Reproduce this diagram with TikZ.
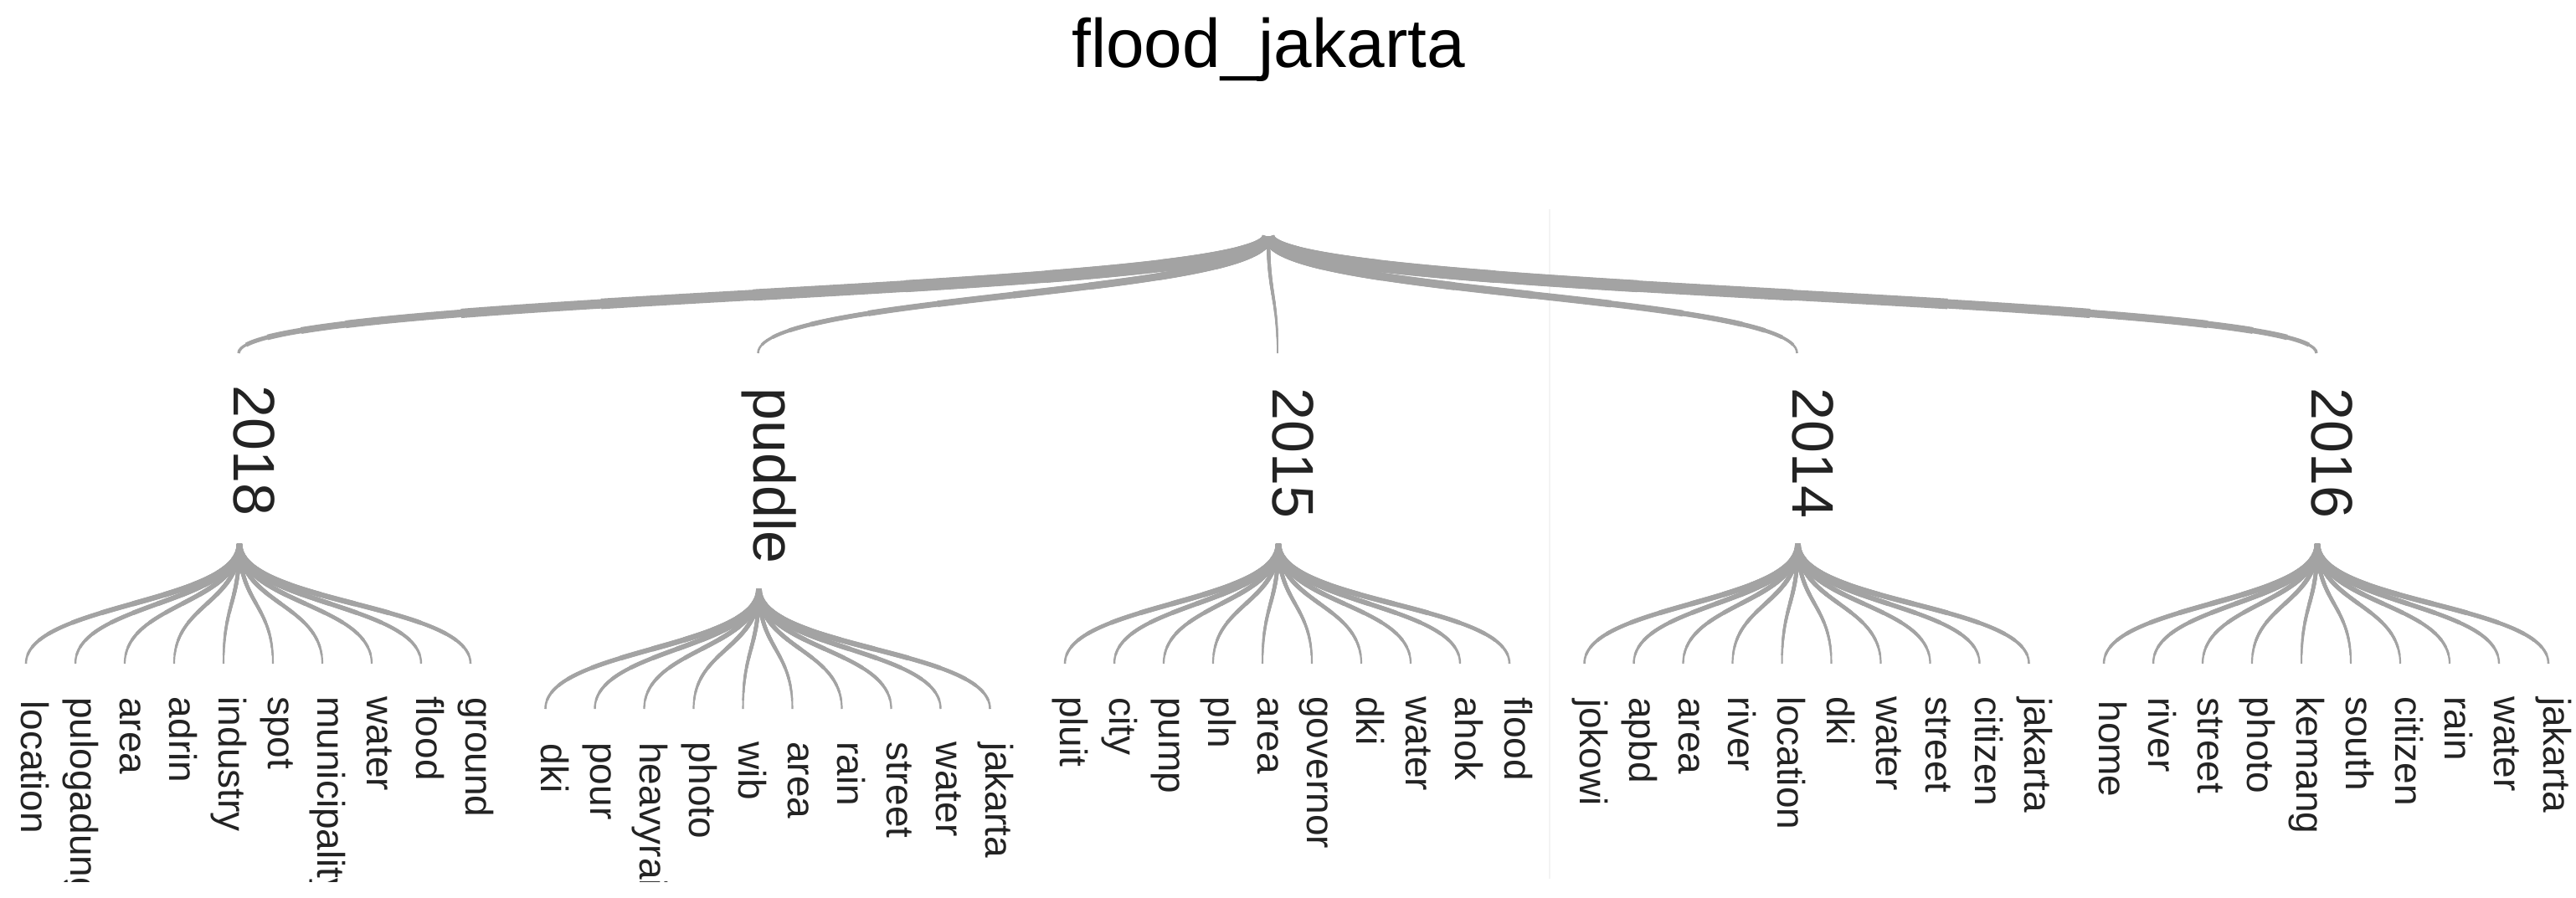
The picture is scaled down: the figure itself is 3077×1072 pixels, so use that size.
\documentclass[tikz,border=0pt]{standalone}
\usepackage{fontspec}
\setmainfont{Liberation Sans}
\usetikzlibrary{calc}
\definecolor{linkgray}{RGB}{163,163,163}
\definecolor{txtcol}{RGB}{35,35,35}
\definecolor{faint}{RGB}{243,243,243}
\newcommand\lnk[4]{%
  \coordinate (lkM) at ($(#1)!0.5!(#2)$);
  \coordinate (lkA) at (#1 |- lkM);
  \coordinate (lkB) at (#2 |- lkM);
  \foreach \lkt in {1,0.95,0.9,0.85,0.8,0.7,0.6,0.5,0.4,0.3,0.2,0.1}{%
    \pgfmathsetmacro\lkw{0.5*(#4+(#3-#4)*(1-(\lkt-0.025)^3))}%
    \pgfsetlinewidth{\lkw pt}%
    \pgfsetstrokecolor{linkgray}%
    \pgfpathcurvebetweentime{0}{\lkt}{\pgfpointanchor{#1}{center}}{\pgfpointanchor{lkA}{center}}{\pgfpointanchor{lkB}{center}}{\pgfpointanchor{#2}{center}}%
    \pgfusepath{stroke}%
  }%
}
\tikzset{
  lone/.style={rotate=-90, anchor=mid west, inner sep=0pt, font=\fontsize{35}{35}\selectfont, text=txtcol},
  leaf/.style={rotate=-90, anchor=mid west, inner sep=0pt, font=\fontsize{23}{23}\selectfont, text=txtcol},
  ttl/.style={anchor=base, inner sep=0pt, font=\fontsize{41}{41}\selectfont, text=black},
  faintline/.style={draw=faint, line width=1pt}
}
\begin{document}
\begin{tikzpicture}[x=0.5pt,y=-0.5pt]
\useasboundingbox (0,0) rectangle (3077,1072);
\fill[white] (0,0) rectangle (3077,1072);
\draw[faintline] (1851,250) -- (1851,1050);
\node[ttl] (title) at (1515,80) {flood\_jakarta};
\coordinate (root) at (1515,283);
\begin{scope}
\clip (0,0) rectangle (3077,1053);
\foreach \g/\xk/\hy/\lbl/\wa/\wb/\words in {
 0/285/650/2018/15/2.5/{location,pulogadung,area,adrin,industry,spot,municipality,water,flood,ground},
 1/905.5/704/puddle/9/2/{dki,pour,heavyrain,photo,wib,area,rain,street,water,jakarta},
 2/1526/650/2015/4/1.5/{pluit,city,pump,pln,area,governor,dki,water,ahok,flood},
 3/2146.5/650/2014/10/2/{jokowi,apbd,area,river,location,dki,water,street,citizen,jakarta},
 4/2767/650/2016/15/2.5/{home,river,street,photo,kemang,south,citizen,rain,water,jakarta}}{
  \coordinate (e\g) at (\xk,422);
  \node[lone] (n\g) at (\xk,460) {\lbl};
  \lnk{root}{e\g}{\wa}{\wb}
  \coordinate (h\g) at (\xk+1,\hy);
  \foreach \w [count=\i from 0] in \words {
    \pgfmathsetmacro\lx{\xk-254+59*\i}
    \pgfmathsetmacro\wsa{4.5+0.5*abs(\i-4.5)}
    \pgfmathsetmacro\wsb{1.8+0.1*abs(\i-4.5)}
    \coordinate (e\g\i) at (\lx,\hy+143);
    \node[leaf] (l\g\i) at (\lx,\hy+180) {\w};
    \lnk{h\g}{e\g\i}{\wsa}{\wsb}
  }
}
\end{scope}
\end{tikzpicture}
\end{document}
